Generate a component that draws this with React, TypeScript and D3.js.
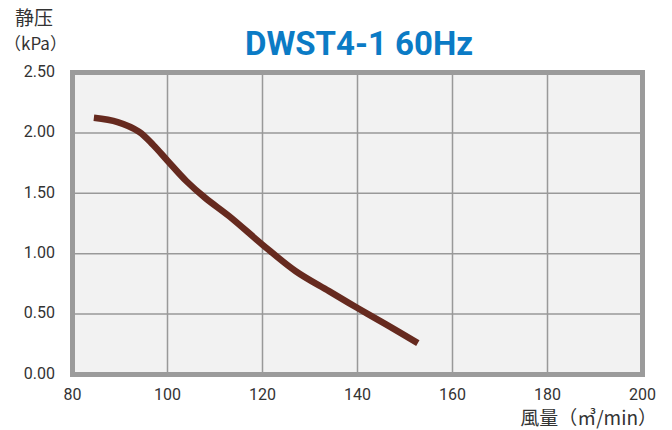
import { curveCatmullRom, line, scaleLinear } from "d3";
import type { ReactElement } from "react";

// air flow (m3/min) and static pressure (kPa)
const flow = [84.5, 89.5, 94, 97, 100, 104, 108, 113, 120, 127, 134, 140, 146, 152.7];
const pressure = [2.125, 2.09, 2.01, 1.9, 1.77, 1.6, 1.46, 1.31, 1.075, 0.855, 0.69, 0.55, 0.415, 0.26];

const xTicks = [80, 100, 120, 140, 160, 180, 200];
const yTicks = [0, 0.5, 1, 1.5, 2, 2.5];

const title = "DWST4-1 60Hz";
const yTitle = ["静压", "（kPa）"];
const xTitle = "風量（㎥/min）";

const width = 672;
const height = 430;
const plot = { left: 72.5, right: 642.5, top: 72.5, bottom: 374.5 } as const;

const font = "Roboto, 'Noto Sans', sans-serif";
const cjkFont = "'Noto Sans CJK JP', 'Noto Sans', sans-serif";

export default function App(): ReactElement {
  const x = scaleLinear().domain([80, 200]).range([plot.left, plot.right]);
  const y = scaleLinear().domain([0, 2.5]).range([plot.bottom, plot.top]);

  const points = flow.map((f, i) => [f, pressure[i]] as [number, number]);
  const path = line<[number, number]>()
    .x((d) => x(d[0]))
    .y((d) => y(d[1]))
    .curve(curveCatmullRom.alpha(0.5))(points);

  return (
    <svg
      width={width}
      height={height}
      viewBox={`0 0 ${width} ${height}`}
      style={{ position: "absolute", left: 0, top: 0, background: "#ffffff" }}
    >
      <rect
        x={plot.left}
        y={plot.top}
        width={plot.right - plot.left}
        height={plot.bottom - plot.top}
        fill="#f2f2f2"
      />

      {xTicks.slice(1, -1).map((t) => (
        <line key={`gx-${t}`} x1={x(t)} x2={x(t)} y1={plot.top} y2={plot.bottom} stroke="#999999" strokeWidth={1.5} />
      ))}
      {yTicks.slice(1, -1).map((t) => (
        <line key={`gy-${t}`} x1={plot.left} x2={plot.right} y1={y(t)} y2={y(t)} stroke="#999999" strokeWidth={1.5} />
      ))}

      <rect
        x={plot.left}
        y={plot.top}
        width={plot.right - plot.left}
        height={plot.bottom - plot.top}
        fill="none"
        stroke="#9b9b9b"
        strokeWidth={5}
      />

      {path !== null && (
        <path d={path} fill="none" stroke="#662a1f" strokeWidth={6.5} strokeLinecap="butt" strokeLinejoin="round" />
      )}

      {yTicks.map((t) => (
        <text
          key={`ly-${t}`}
          x={55}
          y={y(t)}
          textAnchor="end"
          dominantBaseline="middle"
          fill="#333333"
          fontSize={16}
          fontFamily={font}
        >
          {t.toFixed(2)}
        </text>
      ))}

      {xTicks.map((t) => (
        <text key={`lx-${t}`} x={x(t)} y={400} textAnchor="middle" fill="#333333" fontSize={16} fontFamily={font}>
          {t}
        </text>
      ))}

      <text x={359} y={55} textAnchor="middle" fill="#0b7bc5" fontSize={33} fontWeight="bold" fontFamily={font}>
        {title}
      </text>

      <text x={34} y={25} textAnchor="middle" fill="#333333" fontSize={19} fontFamily={cjkFont}>
        {yTitle[0]}
      </text>
      <text x={4} y={50} textAnchor="start" fill="#333333" fontSize={17} fontFamily={cjkFont}>
        {yTitle[1]}
      </text>

      <text x={657} y={425} textAnchor="end" fill="#333333" fontSize={19} fontFamily={cjkFont}>
        {xTitle}
      </text>
    </svg>
  );
}
